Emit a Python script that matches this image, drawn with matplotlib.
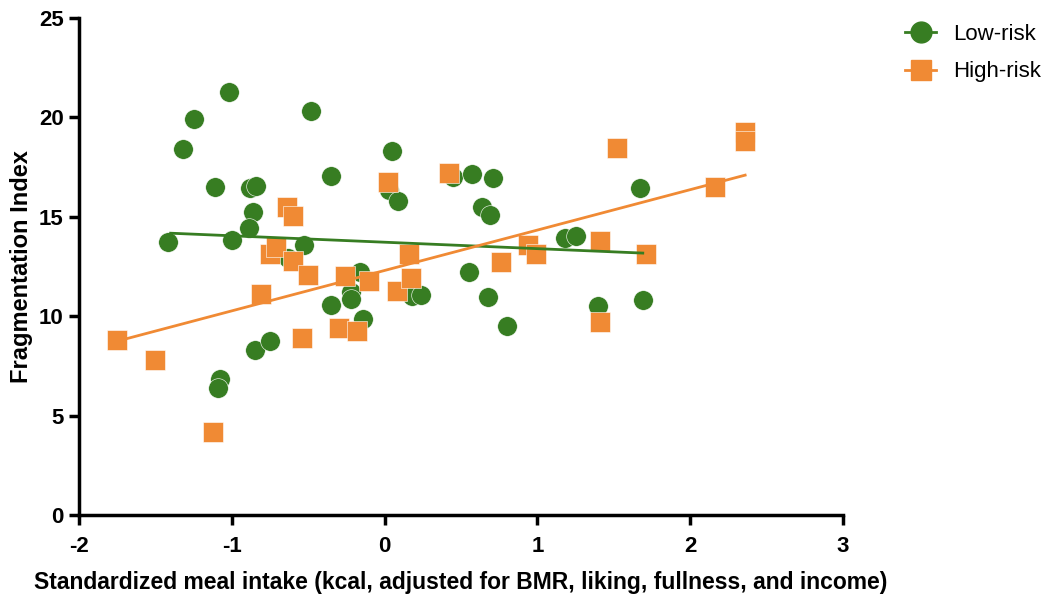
import numpy as np
import matplotlib
matplotlib.use("Agg")
import matplotlib.pyplot as plt
from matplotlib.lines import Line2D

# -----------------------------
# Data
# -----------------------------
low_x = [-1.42, -1.32, -1.25, -1.02, -1.11, -1.08, -1.09, -1.00, -0.88, -0.84,
         -0.86, -0.89, -0.85, -0.75, -0.63, -0.53, -0.48, -0.35, 0.05, 0.03,
         0.09, 0.45, 0.57, 0.71, 0.64, 0.69, 1.18, 1.25, 0.55, 0.68,
         0.80, -0.16, -0.22, -0.22, -0.35, -0.14, 0.18, 0.24, 1.67, 1.40, 1.69]
low_y = [13.72, 18.40, 19.90, 21.26, 16.48, 6.83, 6.38, 13.82, 16.45, 16.53,
         15.23, 14.42, 8.29, 8.74, 12.90, 13.57, 20.30, 17.04, 18.30, 16.33,
         15.78, 16.98, 17.14, 16.93, 15.48, 15.08, 13.92, 14.02, 12.21, 10.95,
         9.50, 12.21, 11.20, 10.85, 10.55, 9.85, 11.00, 11.06, 16.43, 10.50, 10.80]

high_x = [-1.75, -1.50, -1.12, -0.81, -0.75, -0.71, -0.64, -0.60, -0.60, -0.54,
          -0.50, -0.30, -0.26, -0.18, -0.10, 0.02, 0.08, 0.16, 0.17, 0.42,
          0.76, 0.94, 0.99, 1.41, 1.41, 1.52, 1.71, 2.16, 2.36, 2.36]
high_y = [8.79, 7.79, 4.17, 11.10, 13.10, 13.47, 15.48, 15.03, 12.76, 8.89,
          12.06, 9.40, 12.00, 9.25, 11.76, 16.73, 11.26, 13.12, 11.91, 17.19,
          12.71, 13.57, 13.12, 13.77, 9.70, 18.44, 13.12, 16.48, 19.25, 18.80]

# regression line end points
low_line_x = [-1.40, 1.69]
low_line_y = [14.17, 13.17]
high_line_x = [-1.75, 2.36]
high_line_y = [8.74, 17.09]

GREEN = "#377D22"
ORANGE = "#F08A34"

plt.rcParams["font.family"] = ["Liberation Sans", "DejaVu Sans"]
plt.rcParams["axes.unicode_minus"] = False

fig = plt.figure(figsize=(10.5, 5.95), dpi=100)
ax = fig.add_axes([0.0752, 0.1345, 0.7276, 0.8355])

# low-risk circles, then high-risk squares
ax.scatter(low_x, low_y, s=200, marker="o", color=GREEN,
           edgecolors="white", linewidths=0.4, zorder=2)
ax.scatter(high_x, high_y, s=200, marker="s", color=ORANGE,
           edgecolors="white", linewidths=0.4, zorder=3)

ax.plot(low_line_x, low_line_y, color=GREEN, lw=2, zorder=4)
ax.plot(high_line_x, high_line_y, color=ORANGE, lw=2, zorder=4)

ax.set_xlim(-2, 3)
ax.set_ylim(0, 25)
ax.set_xticks([-2, -1, 0, 1, 2, 3])
ax.set_yticks([0, 5, 10, 15, 20, 25])

for side in ["top", "right"]:
    ax.spines[side].set_visible(False)
for side in ["left", "bottom"]:
    ax.spines[side].set_linewidth(2.5)

ax.tick_params(axis="both", direction="out", length=7, width=2.5,
               labelsize=16, pad=4)
ax.tick_params(axis="x", pad=8)
for lab in ax.get_xticklabels() + ax.get_yticklabels():
    lab.set_fontweight("bold")

ax.set_xlabel("Standardized meal intake (kcal, adjusted for BMR, liking, fullness, and income)",
              fontsize=16.5, fontweight="bold", labelpad=10)
ax.set_ylabel("Fragmentation Index", fontsize=17, fontweight="bold", labelpad=4)

handles = [
    Line2D([0], [0], color=GREEN, lw=2, marker="o", markersize=15, label="Low-risk"),
    Line2D([0], [0], color=ORANGE, lw=2, marker="s", markersize=15, label="High-risk"),
]
fig.legend(handles=handles, loc="upper left", bbox_to_anchor=(0.862, 0.96),
           frameon=False, fontsize=16, handlelength=1.4, handletextpad=0.75,
           labelspacing=0.75, borderpad=0, borderaxespad=0)

fig.savefig("out.png", dpi=100)
